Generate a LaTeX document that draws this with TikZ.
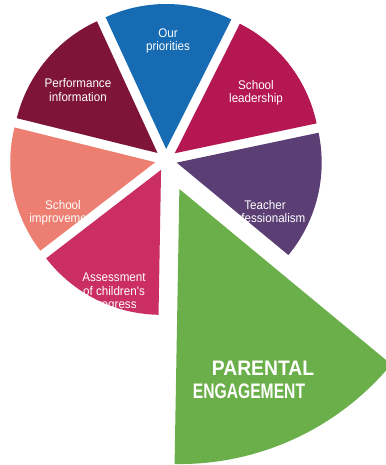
\documentclass[tikz,border=0pt]{standalone}
\usepackage{fontspec}
\setmainfont{Liberation Sans}
\newfontfamily\slicefont[FakeStretch=0.93]{Liberation Sans}
\usetikzlibrary{calc}
\definecolor{perfred}{RGB}{126,20,55}
\definecolor{prioblue}{RGB}{22,107,178}
\definecolor{leadred}{RGB}{181,23,82}
\definecolor{teachpurple}{RGB}{90,62,116}
\definecolor{improvesalmon}{RGB}{236,127,114}
\definecolor{assesspink}{RGB}{203,46,98}
\definecolor{parentgreen}{RGB}{106,175,74}
\tikzstyle{slicetext} = [text=white, align=center, inner sep=0pt, font=\slicefont\fontsize{12.5}{13.5}\selectfont]
\tikzstyle{bigtext} = [text=white, inner sep=0pt, font=\bfseries\fontsize{21}{23}\selectfont]

\begin{document}
\begin{tikzpicture}[x=1pt, y=1pt]
\useasboundingbox (0,0) rectangle (385,465);
\coordinate (C) at (166,305);
% small slices, pushed out a little from the centre
\fill[perfred] ($(C)+(140.4:11)$) -- ++(114.7:145) arc[start angle=114.7, end angle=166.1, radius=145pt] -- cycle;
\node (perf) [slicetext] at (78,375) {Performance\\information};
\fill[prioblue] ($(C)+(89:11)$) -- ++(63.3:145) arc[start angle=63.3, end angle=114.7, radius=145pt] -- cycle;
\node (prio) [slicetext] at (168,424) {Our\\priorities};
\fill[leadred] ($(C)+(37.6:11)$) -- ++(11.9:145) arc[start angle=11.9, end angle=63.3, radius=145pt] -- cycle;
\node (lead) [slicetext] at (256,372) {School\\leadership};
\fill[teachpurple] ($(C)+(-13.85:11)$) -- ++(-39.6:145) arc[start angle=-39.6, end angle=11.9, radius=145pt] -- cycle;
\node (teach) [slicetext] at (265,252) {Teacher\\professionalism};
\fill[improvesalmon] ($(C)+(191.85:11)$) -- ++(166.1:145) arc[start angle=166.1, end angle=217.6, radius=145pt] -- cycle;
\node (improve) [slicetext] at (63,252) {School\\improvement};
\fill[assesspink] ($(C)+(243.3:11)$) -- ++(217.6:145) arc[start angle=217.6, end angle=269, radius=145pt] -- cycle;
\node (assess) [slicetext] at (114,173) {Assessment\\of children's\\progress};
% the big slice
\fill[parentgreen] ($(C)+(-65.3:32)$) -- ++(-91:275) arc[start angle=-91, end angle=-39.6, radius=275pt] -- cycle;
\node (parental) [bigtext] at (263,97) {\scalebox{0.92}[1]{PARENTAL}};
\node (engage) [bigtext] at (249,74) {\scalebox{0.745}[1]{ENGAGEMENT}};
\end{tikzpicture}
\end{document}
